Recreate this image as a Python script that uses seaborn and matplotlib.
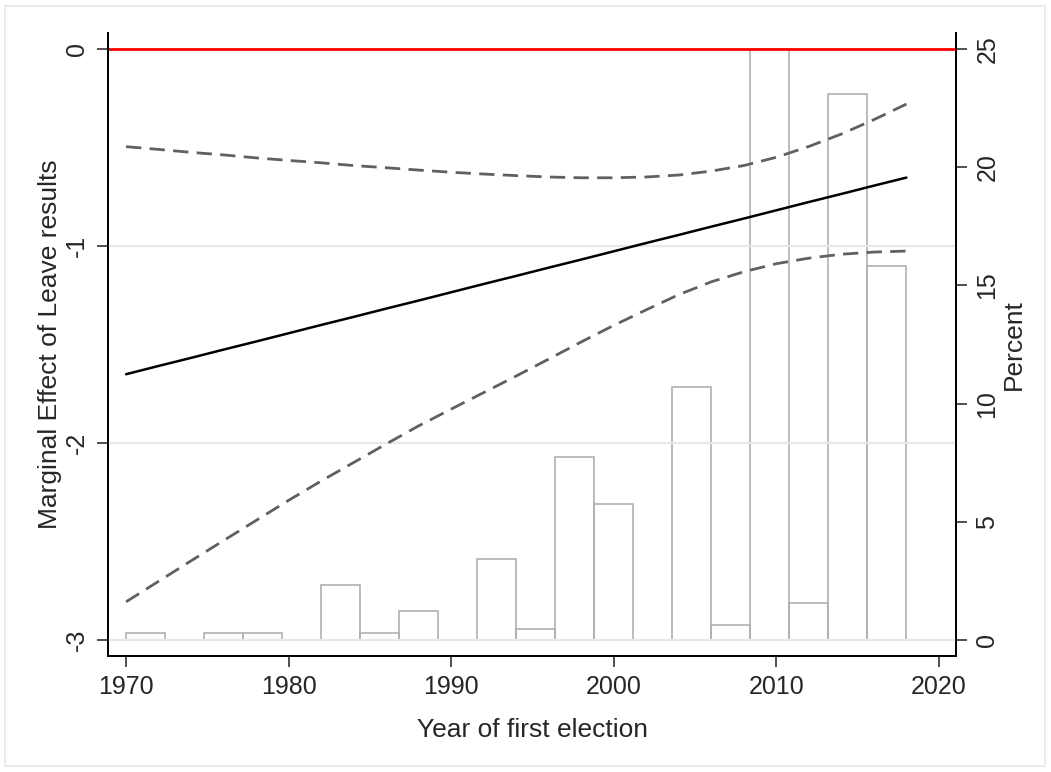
import matplotlib
matplotlib.use("Agg")
import matplotlib.pyplot as plt
from matplotlib.patches import Rectangle
import seaborn as sns
import pandas as pd

# Marginal effect of Leave vote share by year of first election, with 95% CI
years = [1970, 1972, 1974, 1976, 1978, 1980, 1982, 1984, 1986, 1988, 1990, 1992,
         1994, 1996, 1998, 2000, 2002, 2004, 2006, 2008, 2010, 2012, 2014, 2016, 2018]
effect = [-1.651, -1.609, -1.568, -1.526, -1.485, -1.443, -1.401, -1.360, -1.318,
          -1.277, -1.235, -1.193, -1.152, -1.110, -1.069, -1.027, -0.985, -0.944,
          -0.902, -0.861, -0.819, -0.777, -0.736, -0.694, -0.653]
ci_upper = [-0.496, -0.510, -0.525, -0.538, -0.553, -0.566, -0.578, -0.592, -0.603,
            -0.615, -0.626, -0.635, -0.643, -0.650, -0.654, -0.654, -0.650, -0.640,
            -0.620, -0.592, -0.550, -0.495, -0.432, -0.359, -0.280]
ci_lower = [-2.806, -2.702, -2.598, -2.495, -2.393, -2.291, -2.193, -2.099, -2.005,
            -1.913, -1.828, -1.744, -1.660, -1.574, -1.487, -1.403, -1.324, -1.247,
            -1.182, -1.131, -1.090, -1.062, -1.042, -1.031, -1.026]

# Distribution of year of first election (percent of MPs per bin)
bin_edges = [1970, 1972.4, 1974.8, 1977.2, 1979.6, 1982, 1984.4, 1986.8, 1989.2,
             1991.6, 1994, 1996.4, 1998.8, 2001.2, 2003.6, 2006, 2008.4, 2010.8,
             2013.2, 2015.6, 2018]
percent = [0.31, 0, 0.31, 0.31, 0, 2.33, 0.31, 1.24, 0, 3.41, 0.45, 7.75, 5.74, 0,
           10.7, 0.62, 25.0, 1.55, 23.1, 15.8]

x_ticks = [1970, 1980, 1990, 2000, 2010, 2020]
left_ticks = [-3, -2, -1, 0]
right_ticks = [0, 5, 10, 15, 20, 25]

sns.set_theme(style="white")
plt.rcParams["font.family"] = ["Liberation Sans", "DejaVu Sans"]

df = pd.DataFrame({"year": years, "effect": effect, "lo": ci_lower, "hi": ci_upper})
hist = pd.DataFrame({"left": bin_edges[:-1], "right": bin_edges[1:], "pct": percent})
hist = hist[hist["pct"] > 0]

fig = plt.figure(figsize=(10.51, 7.72), dpi=100)
ax = fig.add_axes([0.1028, 0.1503, 0.8068, 0.8070])
ax2 = ax.twinx()

# histogram on the right-hand axis
ax2.bar(hist["left"], hist["pct"], width=hist["right"] - hist["left"], align="edge",
        facecolor="none", edgecolor="#b0b0b0", linewidth=1.2, zorder=1)

# estimate lines on the left-hand axis, drawn above the bars
ax.set_zorder(ax2.get_zorder() + 1)
ax.patch.set_visible(False)

for v in left_ticks[:-1]:
    ax.axhline(v, color="#e8e8e8", lw=1.6, zorder=0)
ax.axhline(0, color="#ff0000", lw=2.0, zorder=2)

ci_dash = (5.5, 3.0)
sns.lineplot(data=df, x="year", y="hi", ax=ax, color="#606060", lw=2.0,
             zorder=3).lines[-1].set_dashes(ci_dash)
sns.lineplot(data=df, x="year", y="lo", ax=ax, color="#606060", lw=2.0,
             zorder=3).lines[-1].set_dashes(ci_dash)
sns.lineplot(data=df, x="year", y="effect", ax=ax, color="black", lw=1.8, zorder=4)

ax.set_xlim(1968.89, 2021.05)
ax.set_ylim(-3.081, 0.081)
ax2.set_ylim(-0.677, 25.677)

ax.set_xticks(x_ticks)
ax.set_yticks(left_ticks)
ax2.set_yticks(right_ticks)
ax.set_yticklabels([str(t) for t in left_ticks], rotation=90, va="center")
ax2.set_yticklabels([str(t) for t in right_ticks], rotation=90, va="center")

for a in (ax, ax2):
    a.tick_params(axis="both", labelsize=18, length=8, width=1.2, color="#333333",
                  direction="out", pad=6)
    a.spines["top"].set_visible(False)
    for s in ("left", "right", "bottom"):
        a.spines[s].set_color("black")
        a.spines[s].set_linewidth(1.3)
    a.grid(False)
ax.tick_params(axis="y", left=True, right=False)
ax.tick_params(axis="x", bottom=True)
ax2.tick_params(axis="y", right=True, left=False)

ax.set_xlabel("Year of first election", fontsize=19)
ax.set_ylabel("Marginal Effect of Leave results", fontsize=19)
ax2.set_ylabel("Percent", fontsize=19)
ax.xaxis.set_label_coords(0.5, -0.0996)
ax.yaxis.set_label_coords(-0.0542, 0.5)
ax2.yaxis.set_label_coords(1.054, 0.5)

fig.patches.append(Rectangle((0.0048, 0.0078), 0.9895, 0.9845, transform=fig.transFigure,
                             fill=False, edgecolor="#ececec", lw=1.5))

fig.savefig("out.png", dpi=100)
